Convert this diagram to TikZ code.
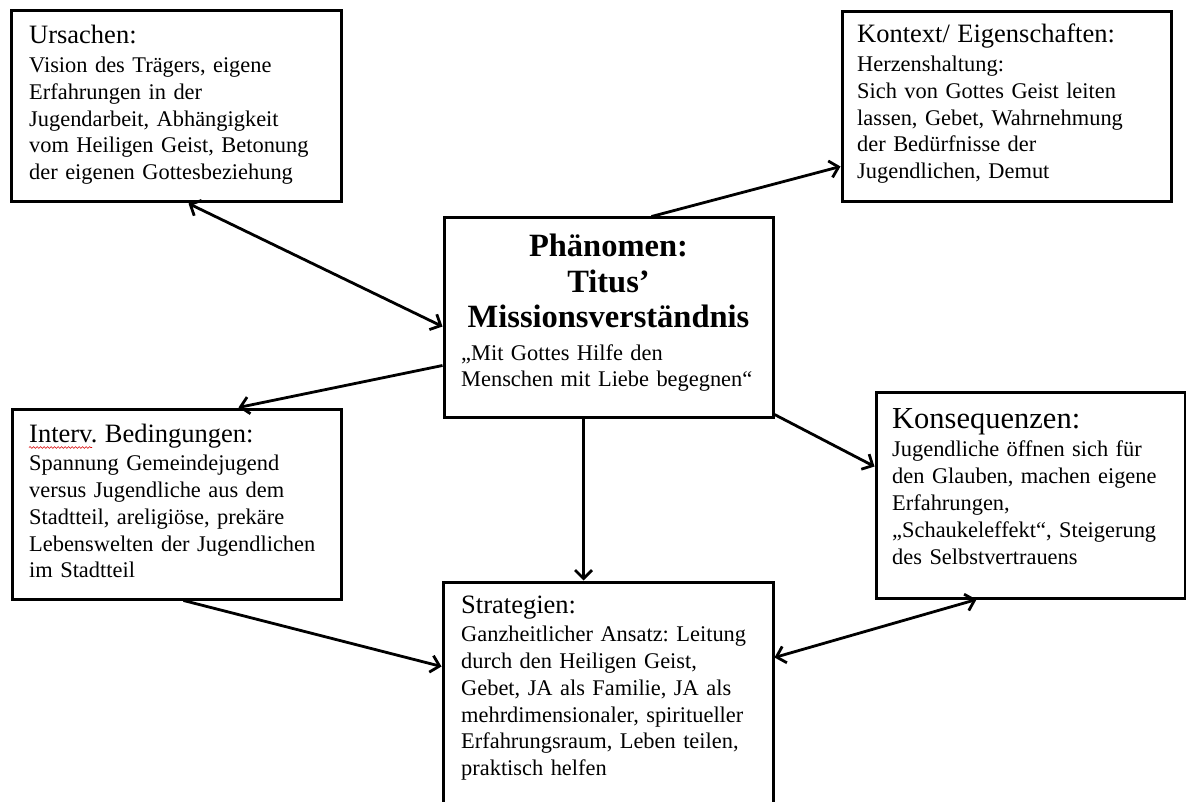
\documentclass[tikz,border=0pt]{standalone}
\usepackage{fontspec}
\setmainfont{Liberation Serif}
\usetikzlibrary{arrows.meta,decorations.pathmorphing}
\frenchspacing

\tikzset{
  box/.style={draw, line width=3pt, inner sep=0pt, fill=white},
  body/.style={anchor=base west, inner sep=0pt, text width=318pt, align=left,
    font=\fontsize{22.4}{26.8}\selectfont},
  barb/.tip={Straight Barb[length=8.5pt,width=17pt]},
  link/.style={line width=2.8pt, -barb},
  twoway/.style={line width=2.8pt, barb-barb}
}
\newcommand{\boxhead}[1]{{\fontsize{26.5}{28}\selectfont #1}\\[1.8pt]}

\begin{document}
\begin{tikzpicture}[x=1pt, y=-1pt]
  \useasboundingbox (0,0) rectangle (1186,802);
  \clip (0,0) rectangle (1186,802);
  \fill[white] (0,0) rectangle (1186,802);

  % boxes of the coding paradigm
  \node[box, minimum width=330pt, minimum height=191pt] (urs) at (176,106.5) {};
  \node[box, minimum width=329pt, minimum height=190pt] (ktx) at (1006.5,107) {};
  \node[box, minimum width=329pt, minimum height=199pt] (phn) at (608.5,317.5) {};
  \node[box, minimum width=329pt, minimum height=190pt] (itv) at (176.5,504) {};
  \node[box, minimum width=309pt, minimum height=206pt] (kon) at (1030.5,495) {};
  \node[box, minimum width=330pt, minimum height=248pt] (str) at (608,706) {};

  % box contents
  \node[body] (ursT) at (29,44) {\boxhead{Ursachen:}
    Vision des Trägers, eigene\\ Erfahrungen in der\\ Jugendarbeit, Abhängigkeit\\
    vom Heiligen Geist, Betonung\\ der eigenen Gottesbeziehung};

  \node[body] (ktxT) at (857,43) {\boxhead{Kontext/ Eigenschaften:}
    Herzenshaltung:\\ Sich von Gottes Geist leiten\\ lassen, Gebet, Wahrnehmung\\
    der Bedürfnisse der\\ Jugendlichen, Demut};

  \node[anchor=base, inner sep=0pt, text width=329pt, align=center,
    font=\fontsize{32.5}{35.5}\selectfont\bfseries] (phnT) at (608.5,257)
    {Phänomen:\\ Titus’\\ Missionsverständnis};
  \node[body] (phnQ) at (461,360) {„Mit Gottes Hilfe den\\ Menschen mit Liebe begegnen“};

  \node[body] (itvT) at (29,442) {\boxhead{Interv. Bedingungen:}
    Spannung Gemeindejugend\\ versus Jugendliche aus dem\\ Stadtteil, areligiöse, prekäre\\
    Lebenswelten der Jugendlichen\\ im Stadtteil};
  \draw[red!85!black, line width=0.6pt, decorate,
    decoration={snake, amplitude=0.9pt, segment length=3.5pt}] (29,447.5) -- (92,447.5);

  \node[body] (konT) at (892,428) {{\fontsize{30.5}{30}\selectfont Konsequenzen:}\\[2pt]
    Jugendliche öffnen sich für\\ den Glauben, machen eigene\\ Erfahrungen,\\
    „Schaukeleffekt“, Steigerung\\ des Selbstvertrauens};

  \node[body] (strT) at (461,613) {\boxhead{Strategien:}
    Ganzheitlicher Ansatz: Leitung\\ durch den Heiligen Geist,\\ Gebet, JA als Familie, JA als\\
    mehrdimensionaler, spiritueller\\ Erfahrungsraum, Leben teilen,\\ praktisch helfen};

  % connectors
  \draw[twoway] ([xshift=179pt]urs.south west) -- ([yshift=-110pt]phn.north west);
  \draw[link] ([xshift=209pt]phn.north west) -- ([yshift=-156pt]ktx.north west);
  \draw[link] ([yshift=-149pt]phn.north west) -- ([xshift=228pt]itv.north west);
  \draw[link] ([yshift=4pt]phn.south east) -- ([yshift=-76pt]kon.north west);
  \draw[link] ([xshift=141pt]phn.south west) -- ([xshift=142pt]str.north west);
  \draw[link] ([xshift=173pt]itv.south west) -- ([yshift=-86pt]str.north west);
  \draw[twoway] ([yshift=-77pt]str.north east) -- ([xshift=102pt]kon.south west);
\end{tikzpicture}
\end{document}
